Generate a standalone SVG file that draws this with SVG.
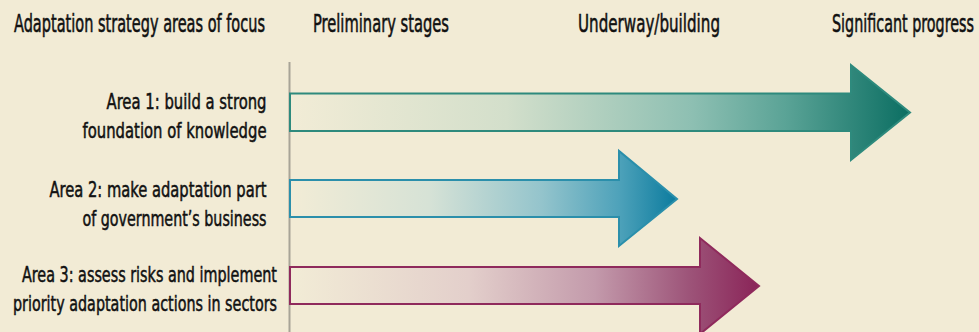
<svg xmlns="http://www.w3.org/2000/svg" width="979" height="332" viewBox="0 0 979 332">
  <defs>
    <linearGradient id="g1" x1="0" y1="0" x2="1" y2="0">
      <stop offset="0" stop-color="#f2ecd6"/>
      <stop offset="0.35" stop-color="#d3dfcb"/>
      <stop offset="0.65" stop-color="#8dbfb2"/>
      <stop offset="0.8" stop-color="#5aa396"/>
      <stop offset="1" stop-color="#0b6e62"/>
    </linearGradient>
    <linearGradient id="g2" x1="0" y1="0" x2="1" y2="0">
      <stop offset="0" stop-color="#f2ecd6"/>
      <stop offset="0.36" stop-color="#d6e2d6"/>
      <stop offset="0.65" stop-color="#94c4cc"/>
      <stop offset="0.85" stop-color="#4ea2ba"/>
      <stop offset="1" stop-color="#0b7b9e"/>
    </linearGradient>
    <linearGradient id="g3" x1="0" y1="0" x2="1" y2="0">
      <stop offset="0" stop-color="#f2ecd6"/>
      <stop offset="0.38" stop-color="#e3cfcb"/>
      <stop offset="0.65" stop-color="#c39aab"/>
      <stop offset="0.85" stop-color="#9d5479"/>
      <stop offset="1" stop-color="#8a2458"/>
    </linearGradient>
  </defs>
  <style>
    text { font-family: "Liberation Sans Narrow", "DejaVu Sans Condensed", "Liberation Sans", sans-serif; font-stretch: condensed; fill: #111; stroke: #111; stroke-width: 0.35px; }
    .hdr { font-size: 16px; }
    .lbl { font-size: 15px; text-anchor: end; }
    .arrow { stroke-width: 2; stroke-linejoin: miter; }
  </style>
  <rect x="0" y="0" width="979" height="332" fill="#f2ebd5"/>

  <g id="headers">
    <text class="hdr" transform="translate(14,31.5) scale(1,1.594)" textLength="251" lengthAdjust="spacingAndGlyphs">Adaptation strategy areas of focus</text>
    <text class="hdr" transform="translate(313,31.5) scale(1,1.594)" textLength="136" lengthAdjust="spacingAndGlyphs">Preliminary stages</text>
    <text class="hdr" transform="translate(578,31.5) scale(1,1.594)" textLength="142" lengthAdjust="spacingAndGlyphs">Underway/building</text>
    <text class="hdr" transform="translate(832,31.5) scale(1,1.594)" textLength="142" lengthAdjust="spacingAndGlyphs">Significant progress</text>
  </g>

  <g id="axis">
    <line x1="289.5" y1="62" x2="289.5" y2="332" stroke="#a8a497" stroke-width="2"/>
  </g>

  <g id="area1">
    <path class="arrow" d="M290,93.5 H851 V65 L910,112.5 L851,160 V131 H290 Z" fill="url(#g1)" stroke="#2e8a7d"/>
    <text class="lbl" transform="translate(266.5,108.5) scale(1,1.467)" textLength="160" lengthAdjust="spacingAndGlyphs">Area 1: build a strong</text>
    <text class="lbl" transform="translate(266.5,137.5) scale(1,1.467)" textLength="184" lengthAdjust="spacingAndGlyphs">foundation of knowledge</text>
  </g>

  <g id="area2">
    <path class="arrow" d="M290,180 H619 V151 L677,199 L619,246 V217 H290 Z" fill="url(#g2)" stroke="#2b8fab"/>
    <text class="lbl" transform="translate(266.5,196.5) scale(1,1.467)" textLength="217" lengthAdjust="spacingAndGlyphs">Area 2: make adaptation part</text>
    <text class="lbl" transform="translate(266.5,226) scale(1,1.467)" textLength="184" lengthAdjust="spacingAndGlyphs">of government’s business</text>
  </g>

  <g id="area3">
    <path class="arrow" d="M290,267 H700 V238 L759,286 L700,334 V304 H290 Z" fill="url(#g3)" stroke="#8f2a5c"/>
    <text class="lbl" transform="translate(277,281.5) scale(1,1.467)" textLength="255" lengthAdjust="spacingAndGlyphs">Area 3: assess risks and implement</text>
    <text class="lbl" transform="translate(277,310.5) scale(1,1.467)" textLength="264" lengthAdjust="spacingAndGlyphs">priority adaptation actions in sectors</text>
  </g>
</svg>
